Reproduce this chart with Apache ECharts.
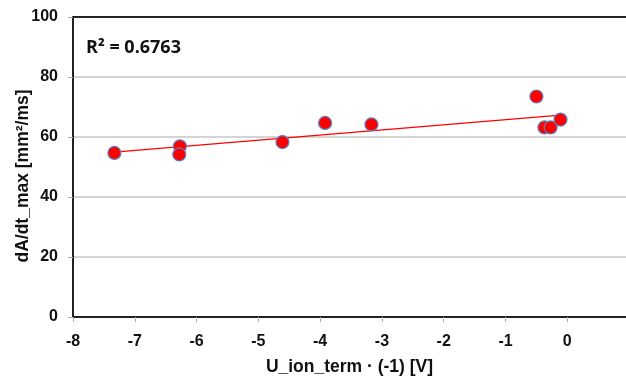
<!DOCTYPE html>
<html>
<head>
<meta charset="utf-8">
<script src="https://cdn.jsdelivr.net/npm/echarts@6/dist/echarts.min.js"></script>
<style>html,body{margin:0;padding:0;background:#fff}#c{width:626px;height:376px}</style>
</head>
<body>
<div id="c"></div>
<script>
var xValues = [-7.33, -6.27, -6.28, -4.61, -3.92, -3.17, -0.50, -0.37, -0.27, -0.11];
var yValues = [54.7, 56.9, 54.2, 58.3, 64.7, 64.2, 73.5, 63.2, 63.2, 65.8];
var xTicks = [-8, -7, -6, -5, -4, -3, -2, -1, 0];
var yTicks = [0, 20, 40, 60, 80, 100];
var xVisibleMax = 0.95; // plot area is cropped at the right edge of the picture
var r2Text = 'R² = 0.6763';
var xName = 'U_ion_term · (-1) [V]';
var yName = 'dA/dt_max [mm²/ms]';

var pts = xValues.map(function (x, i) { return [x, yValues[i]]; });
// least squares trendline from data
var n = xValues.length, mx = 0, my = 0;
for (var i = 0; i < n; i++) { mx += xValues[i]; my += yValues[i]; }
mx /= n; my /= n;
var sxy = 0, sxx = 0;
for (i = 0; i < n; i++) { sxy += (xValues[i] - mx) * (yValues[i] - my); sxx += (xValues[i] - mx) * (xValues[i] - mx); }
var slope = sxy / sxx, icpt = my - slope * mx;
var xmin = Math.min.apply(null, xValues), xmax = Math.max.apply(null, xValues);
var trend = [[xmin, icpt + slope * xmin], [xmax, icpt + slope * xmax]];

var font = '"Liberation Sans", Arial, sans-serif';
var chart = echarts.init(document.getElementById('c'), null, {renderer: 'canvas'});
chart.setOption({
  animation: false,
  grid: {left: 73, top: 17, right: 0, bottom: 59, containLabel: false, outerBoundsMode: 'none'},
  xAxis: [{
    type: 'value', min: xTicks[0], max: xVisibleMax, interval: 1,
    name: xName, nameLocation: 'middle', nameGap: 41, nameMoveOverlap: false,
    nameTextStyle: {fontFamily: font, fontWeight: 'bold', fontSize: 17.5, color: '#111'},
    axisLine: {show: true, onZero: false, lineStyle: {color: '#222', width: 2}},
    axisTick: {show: true, length: 5, lineStyle: {color: '#aaa'}},
    axisLabel: {fontFamily: font, fontWeight: 'bold', fontSize: 16, color: '#111', margin: 17,
      formatter: function (v) { return xTicks.indexOf(v) >= 0 ? String(v) : ''; }},
    splitLine: {show: false}
  }, {
    type: 'value', position: 'top', min: xTicks[0], max: xVisibleMax,
    axisLine: {show: true, onZero: false, lineStyle: {color: '#222', width: 2}},
    axisTick: {show: false}, axisLabel: {show: false}, splitLine: {show: false}
  }],
  yAxis: {
    type: 'value', min: yTicks[0], max: yTicks[yTicks.length - 1], interval: 20,
    name: yName, nameLocation: 'middle', nameGap: 41, nameMoveOverlap: false,
    nameTextStyle: {fontFamily: font, fontWeight: 'bold', fontSize: 17.5, color: '#111', padding: [0, 18, 0, 0]},
    axisLine: {show: true, onZero: false, lineStyle: {color: '#222', width: 2}},
    axisTick: {show: true, length: 5, lineStyle: {color: '#aaa'}},
    axisLabel: {fontFamily: font, fontWeight: 'bold', fontSize: 16, color: '#111', margin: 15, padding: [3, 0, 0, 0]},
    splitLine: {show: true, lineStyle: {color: '#d4d4d4', width: 2}}
  },
  graphic: [{
    type: 'text', left: 86, top: 39, z: 100,
    style: {text: r2Text, font: 'bold 18px "Open Sans", "Noto Sans", sans-serif', fill: '#111'}
  }],
  series: [{
    type: 'line', data: trend, showSymbol: false, symbol: 'none',
    lineStyle: {color: '#ff0000', width: 1.2}, z: 2, silent: true
  }, {
    type: 'scatter', data: pts, symbol: 'circle', symbolSize: 13,
    itemStyle: {color: '#ff0000', borderColor: '#5b7fbf', borderWidth: 1.2, opacity: 1}, z: 3
  }]
});
</script>
</body>
</html>
